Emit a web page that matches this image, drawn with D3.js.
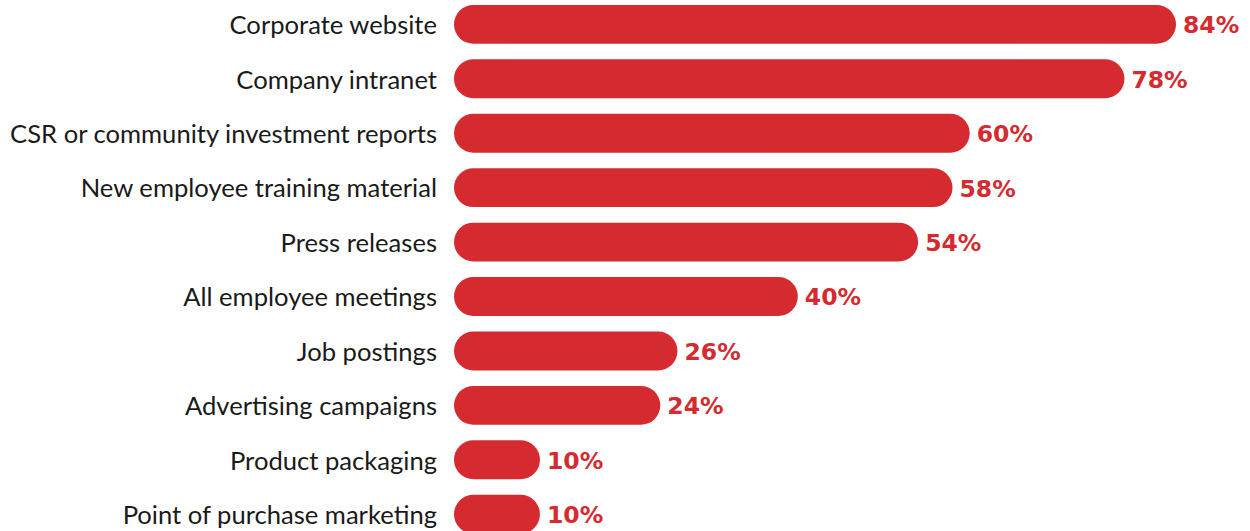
<!DOCTYPE html>
<html>
<head>
<meta charset="utf-8">
<script src="https://cdn.jsdelivr.net/npm/d3@7"></script>
<style>
  html, body { margin: 0; padding: 0; background: #fff; }
  svg { display: block; }
</style>
</head>
<body>
<svg id="chart" width="1250" height="531"></svg>
<script>
// Channels used, share of respondents (%)
const categories = [
  "Corporate website",
  "Company intranet",
  "CSR or community investment reports",
  "New employee training material",
  "Press releases",
  "All employee meetings",
  "Job postings",
  "Advertising campaigns",
  "Product packaging",
  "Point of purchase marketing"
];
const values = [84, 78, 60, 58, 54, 40, 26, 24, 10, 10];

const width = 1250, height = 531;
const barLeft = 454;
const barColor = "#d52b30";

const svg = d3.select("#chart");

const x = d3.scaleLinear().domain([0, 84]).range([barLeft, 1176]);
const y = d3.scaleBand()
  .domain(categories)
  .range([-2.7, 541.3])
  .paddingInner(0.285)
  .paddingOuter(0.14);

const bh = y.bandwidth();

const rows = svg.selectAll("g.row")
  .data(categories.map((c, i) => ({ c, v: values[i] })))
  .join("g")
  .attr("class", "row")
  .attr("transform", d => `translate(0,${y(d.c)})`);

rows.append("rect")
  .attr("x", x(0))
  .attr("y", 0)
  .attr("width", d => x(d.v) - x(0))
  .attr("height", bh)
  .attr("rx", bh / 2)
  .attr("ry", bh / 2)
  .attr("fill", barColor);

rows.append("text")
  .attr("x", 437)
  .attr("y", bh / 2)
  .attr("dy", "0.38em")
  .attr("text-anchor", "end")
  .attr("font-family", "Lato, 'Open Sans', sans-serif")
  .attr("font-size", 25.6)
  .attr("fill", "#1a1a1a")
  .text(d => d.c);

rows.append("text")
  .attr("x", d => x(d.v) + 7)
  .attr("y", bh / 2)
  .attr("dy", "0.38em")
  .attr("font-family", "'DejaVu Sans', sans-serif")
  .attr("font-weight", 700)
  .attr("font-size", 23.5)
  .attr("fill", barColor)
  .text(d => d.v + "%");
</script>
</body>
</html>
